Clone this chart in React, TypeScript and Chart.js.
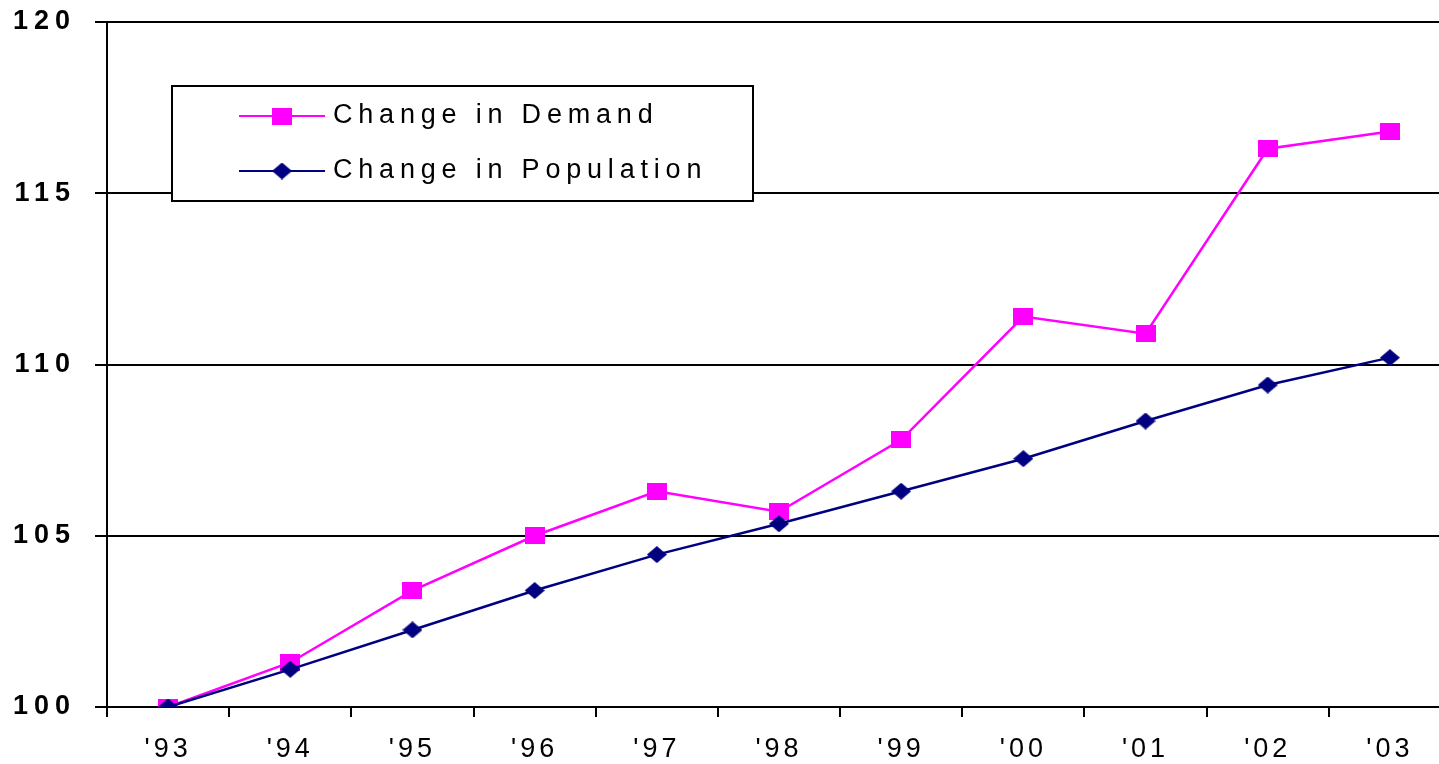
import React, { useEffect, useRef } from "react";
import { Chart, registerables } from "chart.js";

Chart.register(...registerables);

const years = ["'93", "'94", "'95", "'96", "'97", "'98", "'99", "'00", "'01", "'02", "'03"];
const demand = [100, 101.3, 103.4, 105.0, 106.3, 105.7, 107.8, 111.4, 110.9, 116.3, 116.8];
const population = [100, 101.1, 102.25, 103.4, 104.45, 105.35, 106.3, 107.25, 108.35, 109.4, 110.2];
const yTicks = [100, 105, 110, 115, 120];
const seriesNames = ["Change in Demand", "Change in Population"];

const PINK = "#FF00FF";
const NAVY = "#000080";
const FONT = "'Liberation Sans', Arial, Helvetica, sans-serif";

const CANVAS_W = 1461;
const H = 764;

function makeSprite(kind: "square" | "diamond", color: string) {
  const c = document.createElement("canvas");
  c.width = 20;
  c.height = 17;
  const g = c.getContext("2d")!;
  g.fillStyle = color;
  if (kind === "square") {
    g.fillRect(0, 0, 20, 17);
  } else {
    g.beginPath();
    g.moveTo(0, 8.5);
    g.lineTo(10, 0);
    g.lineTo(20, 8.5);
    g.lineTo(10, 17);
    g.closePath();
    g.fill();
  }
  return c;
}

function patchSpacing(scale: any, ls: string) {
  if (!scale || scale.__lsPatched) return;
  const orig = scale.drawLabels.bind(scale);
  scale.drawLabels = (area: any) => {
    const ctx = scale.ctx;
    const prev = ctx.letterSpacing;
    ctx.letterSpacing = ls;
    orig(area);
    ctx.letterSpacing = prev || "0px";
  };
  scale.__lsPatched = true;
}

export default function App() {
  const ref = useRef<HTMLCanvasElement | null>(null);

  useEffect(() => {
    if (!ref.current) return;
    const square = makeSprite("square", PINK);
    const diamond = makeSprite("diamond", NAVY);

    const spacingPlugin = {
      id: "spacing",
      beforeDraw(chart: any) {
        patchSpacing(chart.scales.x, "4px");
        patchSpacing(chart.scales.y, "6px");
      },
    };

    const legendPlugin = {
      id: "boxLegend",
      afterDraw(chart: any) {
        const ctx = chart.ctx;
        const items = [
          { label: seriesNames[0], color: PINK, sprite: square, y: 116 },
          { label: seriesNames[1], color: NAVY, sprite: diamond, y: 171 },
        ];
        const left = 172, right = 753, top = 86, bottom = 201;
        ctx.save();
        ctx.fillStyle = "#ffffff";
        ctx.fillRect(left, top, right - left, bottom - top);
        ctx.strokeStyle = "#000000";
        ctx.lineWidth = 2;
        ctx.strokeRect(left, top, right - left, bottom - top);
        for (const it of items) {
          ctx.strokeStyle = it.color;
          ctx.lineWidth = 2;
          ctx.beginPath();
          ctx.moveTo(239, it.y);
          ctx.lineTo(325, it.y);
          ctx.stroke();
          const cx = 282;
          ctx.drawImage(it.sprite, cx - it.sprite.width / 2, it.y - it.sprite.height / 2);
          ctx.fillStyle = "#000000";
          ctx.font = `27px ${FONT}`;
          ctx.letterSpacing = "5.8px";
          ctx.textAlign = "left";
          ctx.textBaseline = "middle";
          ctx.fillText(it.label, 333, it.y);
          ctx.letterSpacing = "0px";
        }
        ctx.restore();
      },
    };

    const chart = new Chart(ref.current, {
      type: "line",
      data: {
        labels: years,
        datasets: [
          {
            label: seriesNames[0],
            data: demand,
            borderColor: PINK,
            backgroundColor: PINK,
            borderWidth: 2.5,
            pointStyle: square,
            pointRadius: 10,
            pointBorderWidth: 0,
            tension: 0,
            order: 1,
          },
          {
            label: seriesNames[1],
            data: population,
            borderColor: NAVY,
            backgroundColor: NAVY,
            borderWidth: 2.5,
            pointStyle: diamond,
            pointRadius: 10,
            pointBorderWidth: 0,
            tension: 0,
            order: 0,
          },
        ],
      },
      options: {
        responsive: false,
        animation: false,
        devicePixelRatio: 1,
        layout: { padding: { top: 22, left: 0, right: 0, bottom: 0 } },
        plugins: {
          legend: { display: false },
          tooltip: { enabled: false },
          title: { display: false },
        },
        scales: {
          x: {
            type: "category",
            offset: true,
            grid: {
              display: true,
              drawOnChartArea: false,
              drawTicks: true,
              tickLength: 10,
              color: "#000000",
              lineWidth: 2,
              offset: true,
            },
            border: { display: true, color: "#000000", width: 2 },
            ticks: {
              color: "#000000",
              font: { family: FONT, size: 27 },
              padding: 16,
              maxRotation: 0,
              autoSkip: false,
            },
            afterFit(scale: any) {
              scale.height = H - 707;
              scale.paddingLeft = 0;
              scale.paddingRight = 0;
            },
          },
          y: {
            type: "linear",
            min: 100,
            max: 120,
            afterBuildTicks(scale: any) {
              scale.ticks = yTicks.map((v) => ({ value: v }));
            },
            grid: {
              display: true,
              drawOnChartArea: true,
              drawTicks: true,
              tickLength: 12,
              color: "#000000",
              lineWidth: 2,
            },
            border: { display: true, color: "#000000", width: 2 },
            ticks: {
              color: "#000000",
              font: { family: FONT, size: 27, weight: "bold" },
              padding: 19,
            },
            afterFit(scale: any) {
              scale.width = 107;
              scale.paddingTop = 0;
              scale.paddingBottom = 0;
            },
          },
        },
      },
      plugins: [spacingPlugin, legendPlugin],
    } as any);
    return () => chart.destroy();
  }, []);

  return (
    <div
      style={{
        position: "fixed",
        left: 0,
        top: 0,
        width: 1439,
        height: H,
        overflow: "hidden",
        background: "#ffffff",
      }}
    >
      <canvas
        ref={ref}
        width={CANVAS_W}
        height={H}
        style={{ width: CANVAS_W + "px", height: H + "px", display: "block" }}
      />
    </div>
  );
}
